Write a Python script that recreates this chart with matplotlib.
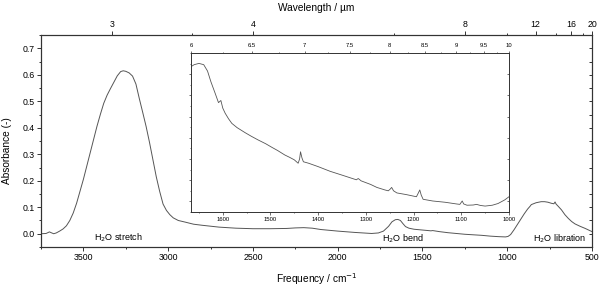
import matplotlib
matplotlib.use('Agg')
import matplotlib.pyplot as plt
import numpy as np

plt.rcParams['font.family'] = ['Liberation Sans', 'DejaVu Sans']

# main spectrum (frequency cm-1, absorbance)
freq = [3750, 3720, 3700, 3690, 3675, 3660, 3640, 3620, 3600, 3580, 3560, 3540,
        3520, 3500, 3480, 3460, 3440, 3420, 3400, 3380, 3360, 3340, 3320, 3300,
        3280, 3265, 3250, 3230, 3210, 3190, 3170, 3150, 3130, 3110, 3090, 3070,
        3050, 3030, 3010, 2990, 2970, 2940, 2900, 2850, 2800, 2700, 2600, 2500,
        2400, 2300, 2250, 2200, 2150, 2100, 2000, 1900, 1800, 1760, 1730, 1700,
        1680, 1660, 1645, 1630, 1615, 1600, 1580, 1550, 1500, 1450, 1440, 1400,
        1350, 1300, 1250, 1200, 1150, 1100, 1050, 1010, 995, 980, 960, 940, 920,
        900, 880, 865, 858, 850, 830, 800, 780, 760, 740, 725, 718, 712, 700,
        680, 660, 640, 620, 600, 570, 540, 500]
absorb = [0.000, 0.001, 0.007, 0.004, 0.000, 0.003, 0.010, 0.018, 0.030, 0.050, 0.078, 0.115,
          0.160, 0.205, 0.255, 0.305, 0.355, 0.405, 0.450, 0.492, 0.523, 0.548, 0.572, 0.596,
          0.612, 0.615, 0.613, 0.607, 0.595, 0.565, 0.510, 0.458, 0.405, 0.345, 0.280, 0.215,
          0.160, 0.112, 0.088, 0.072, 0.060, 0.050, 0.044, 0.036, 0.032, 0.025, 0.021, 0.019,
          0.019, 0.020, 0.022, 0.023, 0.021, 0.016, 0.010, 0.005, 0.001, 0.003, 0.010, 0.028,
          0.045, 0.053, 0.054, 0.050, 0.038, 0.027, 0.021, 0.017, 0.014, 0.011, 0.012, 0.008,
          0.004, 0.001, -0.002, -0.004, -0.006, -0.009, -0.011, -0.012, -0.010, -0.003, 0.015, 0.035, 0.055,
          0.075, 0.093, 0.104, 0.110, 0.112, 0.117, 0.121, 0.121, 0.119, 0.115, 0.113, 0.120, 0.112, 0.104,
          0.090, 0.072, 0.058, 0.046, 0.037, 0.028, 0.020, 0.008]

# inset detail 1667 - 1000 cm-1
ins_freq = [1667, 1660, 1650, 1640, 1632, 1625, 1616, 1609, 1604, 1600, 1595, 1588,
            1581, 1570, 1553, 1540, 1526, 1510, 1497, 1485, 1470, 1460, 1450, 1442,
            1439, 1437, 1434, 1431, 1420, 1410, 1400, 1375, 1350, 1320, 1316, 1310,
            1290, 1277, 1260, 1253, 1249, 1246, 1242, 1235, 1215, 1194, 1190, 1187,
            1184, 1180, 1160, 1134, 1110, 1103, 1098, 1095, 1088, 1075, 1068, 1060,
            1050, 1035, 1023, 1009, 1000]
ins_abs = [0.0535, 0.0545, 0.0551, 0.0545, 0.0515, 0.0465, 0.0410, 0.0366, 0.0376, 0.0340, 0.0316, 0.0290,
           0.0268, 0.0248, 0.0224, 0.0207, 0.0190, 0.0172, 0.0155, 0.0140, 0.0119, 0.0108, 0.0096, 0.0080,
           0.0100, 0.0134, 0.0105, 0.0087, 0.0080, 0.0072, 0.0064, 0.0042, 0.0024, 0.0002, 0.0008, -0.0003,
           -0.0020, -0.0034, -0.0046, -0.0050, -0.0042, -0.0034, -0.0050, -0.0060, -0.0068, -0.0078, -0.0060, -0.0046,
           -0.0070, -0.0090, -0.0098, -0.0104, -0.0112, -0.0114, -0.0098, -0.0112, -0.0118, -0.0117, -0.0114, -0.0119,
           -0.0122, -0.0118, -0.0110, -0.0093, -0.0078]

wl_major = [3, 4, 8, 12, 16, 20]
wl_minor = [3.5, 6, 10, 14, 18]
ins_wl_major = [6, 6.5, 7, 7.5, 8, 8.5, 9, 9.5, 10]
ins_wl_minor = [6.25, 6.75, 7.25, 7.75, 8.25, 8.75, 9.25, 9.75]

line_col = '#555555'
ax_col = '#333333'

fig = plt.figure(figsize=(6, 2.87), dpi=100)
ax = fig.add_axes([0.0683, 0.1394, 0.9184, 0.7386])
ax.plot(freq, absorb, color=line_col, lw=0.7)
ax.set_xlim(3750, 500)
ax.set_ylim(-0.05, 0.75)
ax.set_xticks(np.arange(3500, 499, -500))
ax.set_xticks(np.arange(3750, 499, -250), minor=True)
ax.set_yticks(np.arange(0, 0.71, 0.1))
ax.set_yticks(np.arange(-0.05, 0.751, 0.05), minor=True)
ax.yaxis.set_major_formatter(matplotlib.ticker.FormatStrFormatter('%.1f'))
for s in ax.spines.values():
    s.set_linewidth(0.8)
    s.set_color(ax_col)
ax.tick_params(which='both', direction='out', colors=ax_col, labelcolor='black',
               labelsize=6.3, width=0.7)
ax.tick_params(which='major', length=2.6, pad=2)
ax.tick_params(which='minor', length=1.4)
ax.set_xlabel('Frequency / cm$^{-1}$', fontsize=7.3, labelpad=6)
ax.set_ylabel('Absorbance (-)', fontsize=7.3)
ax.yaxis.set_label_coords(-0.052, 0.453)

# right spine ticks pointing inwards
axr = ax.secondary_yaxis('right')
axr.set_yticks(np.arange(-0.05, 0.751, 0.05))
axr.set_yticklabels([])
axr.tick_params(direction='in', length=2.2, width=0.7, colors=ax_col)
axr.spines['right'].set_visible(False)

# top wavelength axis
axt = ax.twiny()
axt.set_xlim(ax.get_xlim())
axt.set_xticks([10000 / w for w in wl_major])
axt.set_xticklabels([str(w) for w in wl_major])
axt.set_xticks([10000 / w for w in wl_minor], minor=True)
axt.tick_params(which='both', direction='out', colors=ax_col, labelcolor='black',
                labelsize=6.3, width=0.7, pad=2)
axt.tick_params(which='major', length=2.6)
axt.tick_params(which='minor', length=1.4)
axt.set_xlabel('Wavelength / µm', fontsize=7.3, labelpad=6)
for s in axt.spines.values():
    s.set_linewidth(0.8)
    s.set_color(ax_col)

ann = dict(fontsize=6.5, ha='center', va='center')
ax.text(3296, -0.014, 'H$_2$O stretch', **ann)
ax.text(1613, -0.018, 'H$_2$O bend', **ann)
ax.text(693, -0.018, 'H$_2$O libration', **ann)

# inset
axi = fig.add_axes([0.3183, 0.2613, 0.53, 0.554])
axi.plot(ins_freq, ins_abs, color=line_col, lw=0.6)
axi.set_xlim(10000 / 6, 1000)
axi.set_ylim(-0.015, 0.06)
axi.set_xticks(np.arange(1600, 999, -100))
axi.set_xticks(np.arange(1650, 999, -50), minor=True)
axi.set_yticks(np.arange(-0.01, 0.051, 0.01))
axi.set_yticks(np.arange(-0.015, 0.0601, 0.005), minor=True)
axi.set_yticklabels([])
axi.tick_params(which='both', direction='out', colors=ax_col, labelcolor='black',
                labelsize=4.2, width=0.5, pad=1.5)
axi.tick_params(which='major', length=1.8)
axi.tick_params(which='minor', length=1.0)
for s in axi.spines.values():
    s.set_linewidth(0.6)
    s.set_color(ax_col)

axir = axi.secondary_yaxis('right')
axir.set_yticks(np.arange(-0.01, 0.051, 0.01))
axir.set_yticklabels([])
axir.tick_params(direction='in', length=1.8, width=0.5, colors=ax_col)
axir.spines['right'].set_visible(False)

axit = axi.twiny()
axit.set_xlim(axi.get_xlim())
axit.set_xticks([10000 / w for w in ins_wl_major])
axit.set_xticklabels([('%g' % w) for w in ins_wl_major])
axit.set_xticks([10000 / w for w in ins_wl_minor], minor=True)
axit.tick_params(which='both', direction='out', colors=ax_col, labelcolor='black',
                 labelsize=4.2, width=0.5, pad=1.5)
axit.tick_params(which='major', length=1.8)
axit.tick_params(which='minor', length=1.0)
for s in axit.spines.values():
    s.set_linewidth(0.6)
    s.set_color(ax_col)

fig.savefig('out.png', dpi=100)
